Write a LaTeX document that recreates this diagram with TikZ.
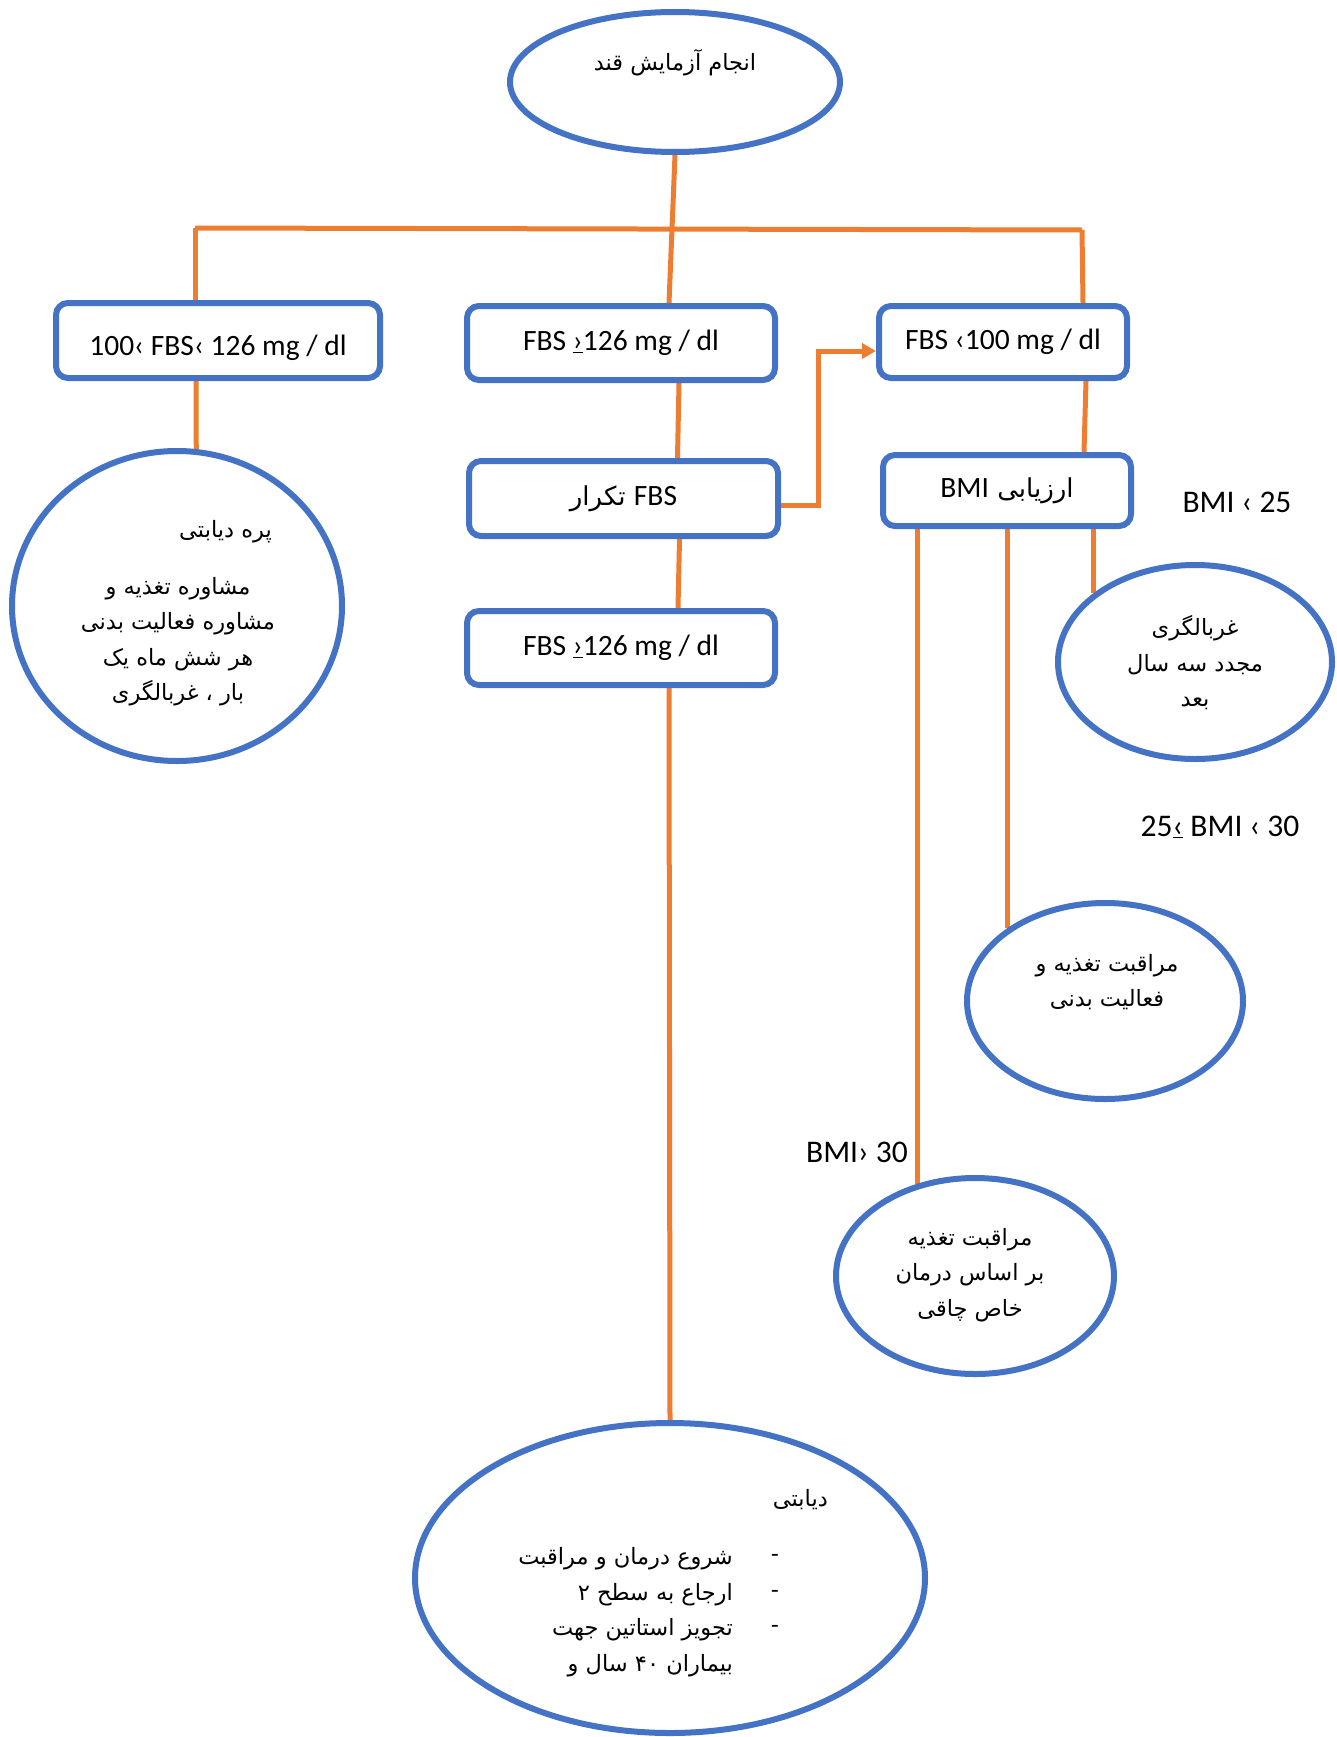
\documentclass[tikz,border=0pt]{standalone}
\usepackage{fontspec}
\setmainfont{Carlito}
\newfontfamily\arabicfont[Script=Arabic]{DejaVu Sans}
\TeXXeTstate=1
\usetikzlibrary{shapes.geometric,arrows.meta,backgrounds}
\definecolor{boxblue}{HTML}{4472C4}
\definecolor{linkorange}{HTML}{ED7D31}
\newcommand\fa[1]{{\arabicfont\beginR #1\endR}}
\newcommand\lt[1]{\beginL{\rmfamily #1}\endL{}}
\tikzset{
  box/.style={draw=boxblue, line width=6pt, rounded corners=12pt, fill=white, inner sep=0pt,
    font=\fontsize{29.5}{34}\selectfont},
  oval/.style={draw=boxblue, line width=6pt, ellipse, inner sep=0pt, fill=white},
  link/.style={draw=linkorange, line width=5pt},
  artext/.style={font=\fontsize{22.5}{35.5}\selectfont, align=center, inner sep=0pt},
  lab/.style={font=\fontsize{31.5}{36}\selectfont, inner sep=0pt},
}
\begin{document}
\begin{tikzpicture}[x=1pt,y=-1pt]
\useasboundingbox (0,0) rectangle (1336,1737);
% ellipses
\node[oval, minimum width=330pt, minimum height=140pt] (top) at (675,82) {};
\node[oval, minimum width=330pt, minimum height=310pt] (pre) at (177,606) {};
\node[oval, minimum width=274pt, minimum height=194pt] (scr) at (1195,662) {};
\node[oval, minimum width=276pt, minimum height=196pt] (care) at (1105,1001) {};
\node[oval, minimum width=278pt, minimum height=196pt] (obes) at (975,1276) {};
\node[oval, minimum width=510pt, minimum height=310pt] (dia) at (670,1578) {};
% boxes
\node[box, minimum width=324pt, minimum height=75pt] (b1) at (218,340.5) {\raisebox{-7pt}[\height][\depth]{100‹ FBS‹ 126 mg / dl}};
\node[box, minimum width=308pt, minimum height=74pt] (b2) at (621,343) {FBS \underline{›}126 mg / dl};
\node[box, minimum width=248pt, minimum height=72pt] (b3) at (1003,342) {FBS ‹100 mg / dl};
\node[box, minimum width=248pt, minimum height=71pt] (bmi) at (1007,490.5) {\fontsize{26}{30}\fa{ارزیابی \lt{\fontsize{29.5}{34}\selectfont BMI}}};
\node[box, minimum width=309pt, minimum height=75pt] (b4) at (623.5,498.5) {\fontsize{26}{30}\fa{\lt{\fontsize{29.5}{34}\selectfont FBS} تکرار}};
\node[box, minimum width=308pt, minimum height=74pt] (b5) at (621,648) {FBS \underline{›}126 mg / dl};
% texts in ellipses
\node[artext] (ttop) at (675,63) {\fa{انجام آزمایش قند}};
\node[artext, anchor=east] (tpre1) at (272,532) {\fa{پره دیابتی}};
\node[artext] (tpre2) at (178,641.5) {\fa{مشاوره تغذیه و}\\ \fa{مشاوره فعالیت بدنی}\\ \fa{هر شش ماه یک}\\ \fa{بار ، غربالگری}};
\node[artext] (tscr) at (1195,663) {\fa{غربالگری}\\ \fa{مجدد سه سال}\\ \fa{بعد}};
\node[artext] (tcare) at (1107,982) {\fa{مراقبت تغذیه و}\\ \fa{فعالیت بدنی}};
\node[artext] (tobes) at (970,1275) {\fa{مراقبت تغذیه}\\ \fa{بر اساس درمان}\\ \fa{خاص چاقی}};
\node[artext, anchor=east] (tdia1) at (828,1500) {\fa{دیابتی}};
\node[artext, align=right, anchor=east] (tdia2) at (733,1612) {\fa{شروع درمان و مراقبت}\\ \fa{ارجاع به سطح ۲}\\ \fa{تجویز استاتین جهت}\\ \fa{بیماران ۴۰ سال و}};
\node[artext, font=\fontsize{22.5}{35.5}\selectfont\arabicfont] (tdash) at (775,1593.5) {-\\-\\-};
% labels
\node[lab] (l25) at (1237,502) {BMI ‹ 25};
\node[lab] (l2530) at (1220,827) {25\underline{‹} BMI ‹ 30};
\node[lab] (l30) at (857,1152) {BMI› 30};
% connectors
\begin{scope}[on background layer]
\coordinate (barL) at (195,228);
\coordinate (barR) at (1082,230);
\draw[link] (barL) -- (barR);
\draw[link] (barL) -- ([xshift=-23pt]b1.north);
\draw[link] (barR) -- ([xshift=80pt]b3.north);
\draw[link] (top.south) -- ([xshift=48pt]b2.north);
\draw[link] ([xshift=58pt]b2.south) -- ([xshift=54pt]b4.north);
\draw[link] ([xshift=56pt]b4.south) -- ([xshift=57pt]b5.north);
\draw[link] ([xshift=48pt]b5.south) -- (dia.north);
\draw[link] ([xshift=-22pt]b1.south) -- (pre.83.5);
\draw[link] ([xshift=83pt]b3.south) -- ([xshift=77pt]bmi.north);
\draw[link] (scr.146.6 |- bmi.south) -- (scr.146.6);
\draw[link] (care.143.5 |- bmi.south) -- (care.143.5);
\draw[link] (obes.122.7 |- bmi.south) -- (obes.122.7);
\draw[link, -{Triangle[length=14pt,width=15pt]}] ([yshift=-7pt]b4.east) -- ++(37,0) |- ([yshift=-9pt]b3.west);
\end{scope}
\end{tikzpicture}
\end{document}
